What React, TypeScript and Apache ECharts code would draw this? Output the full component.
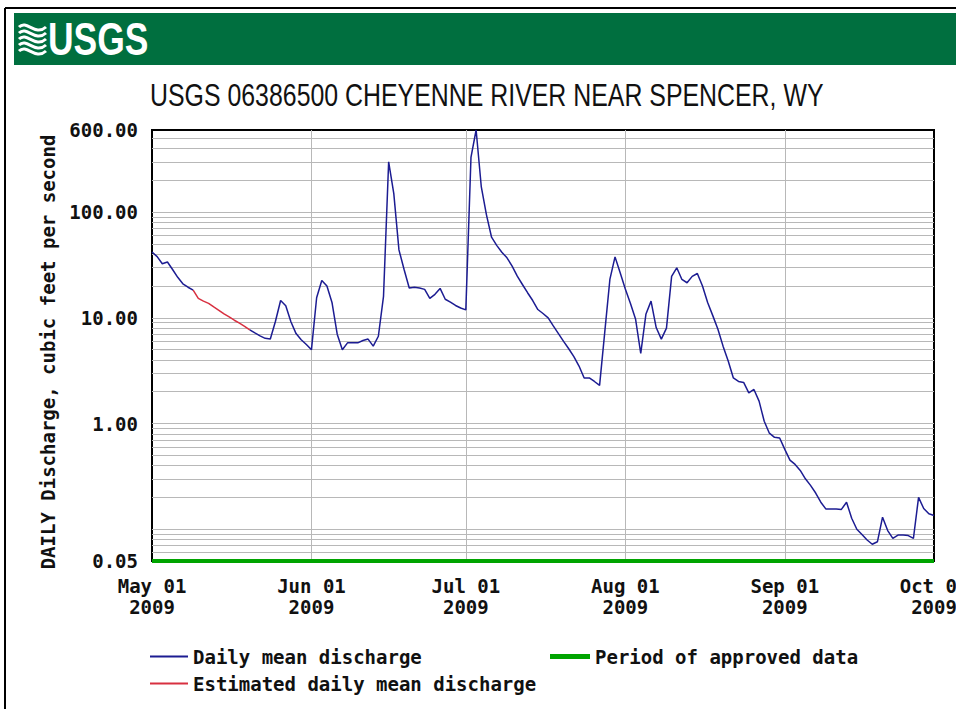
import React, { useEffect, useRef } from "react";
import * as echarts from "echarts";

const TITLE = "USGS 06386500 CHEYENNE RIVER NEAR SPENCER, WY";
const Y_AXIS_TITLE = "DAILY Discharge, cubic feet per second";
const LOGO_TEXT = "USGS";

// Daily mean discharge (cfs), day 0 = May 01 2009 ... day 152 = Sep 30 2009
const dailyDischarge = [
  42, 38, 32.5, 33.8, 28.7, 24.2, 21.0, 19.5, 18.3, 15.3,
  14.4, 13.7, 12.7, 11.8, 10.9, 10.2, 9.5, 8.9, 8.3, 7.7,
  7.2, 6.75, 6.4, 6.3, 9.3, 14.6, 13.0, 9.2, 7.1, 6.2,
  5.6, 5.0, 15.5, 22.6, 20.0, 13.9, 7.0, 5.0, 5.8, 5.8,
  5.8, 6.1, 6.3, 5.4, 6.7, 16, 300, 150, 44, 28.7,
  19.2, 19.5, 19.2, 18.6, 15.3, 16.7, 19.0, 15.0, 14.1, 13.1,
  12.4, 11.9, 330, 600, 175, 95, 58, 48.6, 41.8, 37,
  30.9, 24.8, 20.7, 17.3, 14.6, 12.0, 11.0, 10.0, 8.4, 7.1,
  6.0, 5.1, 4.3, 3.5, 2.7, 2.7, 2.5, 2.3, 7.3, 23.1,
  37.8, 26.7, 18.8, 13.7, 9.7, 4.6, 10.8, 14.4, 8.1, 6.3,
  8.0, 24.7, 29.8, 23.1, 21.5, 24.7, 26.3, 20, 14, 10.5,
  7.8, 5.4, 3.9, 2.7, 2.5, 2.45, 1.95, 2.1, 1.63, 1.05,
  0.81, 0.74, 0.73, 0.57, 0.45, 0.41, 0.36, 0.30, 0.26, 0.22,
  0.18, 0.155, 0.155, 0.155, 0.154, 0.18, 0.127, 0.10, 0.089, 0.079,
  0.072, 0.076, 0.13, 0.097, 0.082, 0.088, 0.088, 0.087, 0.082, 0.20,
  0.157, 0.14, 0.135,
];

// Days (indices into dailyDischarge) that are estimated values
const estimatedStartDay = 8;
const estimatedEndDay = 19;

// Approved-data period (day range)
const approvedPeriod = [0, 152];

const xTickDays = [0, 31, 61, 92, 123, 152];
const xTickLabels = [
  "May 01\n2009",
  "Jun 01\n2009",
  "Jul 01\n2009",
  "Aug 01\n2009",
  "Sep 01\n2009",
  "Oct 01\n2009",
];
const monthGridDays = [31, 61, 92, 123];

const yMin = 0.05;
const yMax = 600;
const yTickValues = [0.05, 1, 10, 100, 600];
const yGridValues = [
  0.06, 0.07, 0.08, 0.09,
  0.1, 0.2, 0.3, 0.4, 0.5, 0.6, 0.7, 0.8, 0.9,
  1, 2, 3, 4, 5, 6, 7, 8, 9,
  10, 20, 30, 40, 50, 60, 70, 80, 90,
  100, 200, 300, 400, 500,
];

const SERIES_MAIN = "Daily mean discharge";
const SERIES_EST = "Estimated daily mean discharge";
const SERIES_APPROVED = "Period of approved data";

const MAIN_COLOR = "#1c1c92";
const EST_COLOR = "#d83040";
const APPROVED_COLOR = "#00a400";

const MONO = '"DejaVu Sans Mono", "Liberation Mono", monospace';
const SANS = '"Liberation Sans", Arial, sans-serif';

export default function App() {
  const ref = useRef<HTMLDivElement>(null);

  useEffect(() => {
    if (!ref.current) return;
    const chart = echarts.init(ref.current, undefined, { renderer: "svg" });

    const mainData = dailyDischarge.map((v, i) => [
      i,
      i > estimatedStartDay && i < estimatedEndDay ? null : v,
    ]);
    const estData = dailyDischarge.map((v, i) => [
      i,
      i >= estimatedStartDay && i <= estimatedEndDay ? v : null,
    ]);

    const labelFont = {
      fontFamily: MONO,
      fontWeight: "bold" as const,
      fontSize: 19,
      color: "#111",
    };

    const waves = [0, 1, 2, 3, 4].map((k) => ({
      type: "bezierCurve",
      shape: {
        x1: 19,
        y1: 27 + k * 6,
        cpx1: 27,
        cpy1: 19 + k * 6,
        cpx2: 35,
        cpy2: 37 + k * 6,
        x2: 46,
        y2: 27 + k * 6,
      },
      style: { stroke: "#ffffff", lineWidth: 3, fill: null },
      silent: true,
    }));

    chart.setOption({
      animation: false,
      backgroundColor: "#ffffff",
      grid: {
        left: 152,
        top: 130,
        right: 22,
        bottom: 148,
        show: true,
        borderColor: "#000000",
        borderWidth: 2,
        backgroundColor: "transparent",
        outerBoundsMode: "none",
      },
      xAxis: {
        type: "value",
        min: approvedPeriod[0],
        max: approvedPeriod[1],
        axisLine: { show: false },
        axisTick: { show: false, customValues: xTickDays },
        splitLine: { show: false },
        axisLabel: {
          customValues: xTickDays,
          formatter: (v: number) => {
            const idx = xTickDays.indexOf(Math.round(v));
            return idx >= 0 ? xTickLabels[idx] : "";
          },
          margin: 14,
          lineHeight: 21,
          ...labelFont,
        },
      },
      yAxis: {
        type: "log",
        logBase: 10,
        min: yMin,
        max: yMax,
        axisLine: { show: false },
        axisTick: { show: false, customValues: yTickValues },
        splitLine: { show: false },
        minorSplitLine: { show: false },
        axisLabel: {
          customValues: yTickValues,
          formatter: (v: number) => Number(v).toFixed(2),
          margin: 14,
          showMinLabel: true,
          showMaxLabel: true,
          ...labelFont,
        },
      },
      legend: [
        {
          data: [
            { name: SERIES_MAIN, icon: "rect" },
            { name: SERIES_EST, icon: "rect" },
          ],
          left: 150,
          top: 647,
          padding: 0,
          orient: "vertical",
          itemWidth: 38,
          itemHeight: 2,
          itemGap: 8,
          selectedMode: false,
          textStyle: { ...labelFont, lineHeight: 18 },
        },
        {
          data: [{ name: SERIES_APPROVED, icon: "rect" }],
          left: 550,
          top: 647,
          padding: 0,
          itemWidth: 40,
          itemHeight: 5,
          selectedMode: false,
          textStyle: { ...labelFont, lineHeight: 18 },
        },
      ],
      series: [
        {
          name: SERIES_APPROVED,
          type: "line",
          data: [
            [approvedPeriod[0], yMin],
            [approvedPeriod[1], yMin],
          ],
          symbol: "none",
          clip: false,
          z: 4,
          lineStyle: { color: APPROVED_COLOR, width: 4 },
          itemStyle: { color: APPROVED_COLOR },
          markLine: {
            silent: true,
            z: 1,
            symbol: ["none", "none"],
            label: { show: false },
            lineStyle: { type: "solid", color: "#b8b8b8", width: 1 },
            emphasis: { disabled: true },
            data: [
              ...yGridValues.map((v) => ({ yAxis: v })),
              ...monthGridDays.map((d) => ({ xAxis: d })),
            ],
          },
        },
        {
          name: SERIES_MAIN,
          type: "line",
          data: mainData,
          symbol: "none",
          connectNulls: false,
          z: 3,
          lineStyle: { color: MAIN_COLOR, width: 1.5 },
          itemStyle: { color: MAIN_COLOR },
        },
        {
          name: SERIES_EST,
          type: "line",
          data: estData,
          symbol: "none",
          connectNulls: false,
          z: 3,
          lineStyle: { color: EST_COLOR, width: 1.5 },
          itemStyle: { color: EST_COLOR },
        },
      ],
      graphic: [
        {
          type: "line",
          shape: { x1: 5, y1: 8, x2: 956, y2: 8 },
          style: { stroke: "#000000", lineWidth: 2 },
          silent: true,
        },
        {
          type: "line",
          shape: { x1: 5, y1: 8, x2: 5, y2: 709 },
          style: { stroke: "#000000", lineWidth: 2 },
          silent: true,
        },
        {
          type: "rect",
          shape: { x: 14, y: 13, width: 942, height: 52 },
          style: { fill: "#006f3f" },
          silent: true,
        },
        ...waves,
        {
          type: "text",
          x: 48,
          y: 39,
          scaleX: 0.77,
          silent: true,
          style: {
            text: LOGO_TEXT,
            fill: "#ffffff",
            font: `bold 46px ${SANS}`,
            align: "left",
            verticalAlign: "middle",
            textAlign: "left",
            textVerticalAlign: "middle",
          },
        },
        {
          type: "text",
          x: 150,
          y: 95,
          scaleX: 0.778,
          silent: true,
          style: {
            text: TITLE,
            fill: "#111111",
            font: `32px ${SANS}`,
            align: "left",
            verticalAlign: "middle",
            textAlign: "left",
            textVerticalAlign: "middle",
          },
        },
        {
          type: "text",
          x: 48,
          y: 352,
          rotation: Math.PI / 2,
          silent: true,
          style: {
            text: Y_AXIS_TITLE,
            fill: "#111111",
            font: `bold 19px ${MONO}`,
            align: "center",
            verticalAlign: "middle",
            textAlign: "center",
            textVerticalAlign: "middle",
          },
        },
      ],
    });

    return () => {
      chart.dispose();
    };
  }, []);

  return (
    <div
      ref={ref}
      style={{
        position: "fixed",
        left: 0,
        top: 0,
        width: 956,
        height: 709,
        background: "#ffffff",
      }}
    />
  );
}
